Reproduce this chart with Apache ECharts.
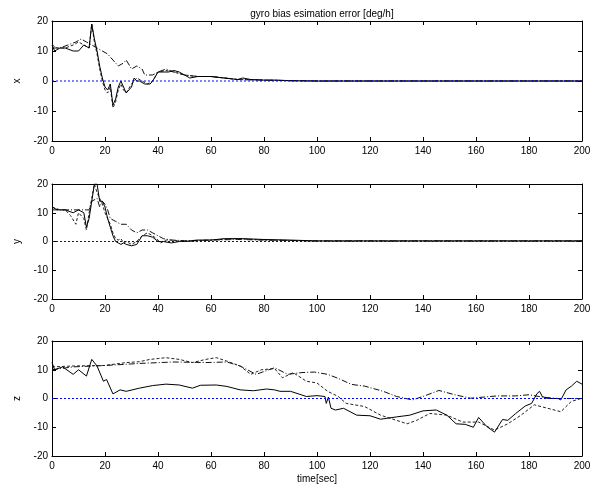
<!DOCTYPE html>
<html lang="en">

<head>
    <meta charset="UTF-8">
    <title>gyro bias</title>
    <script src="https://cdn.jsdelivr.net/npm/echarts@6.0.0/dist/echarts.min.js"></script>
</head>

<body style="margin:0;background:#fff;">
    <div id="main" style="width: 609px;height:490px;"></div>

    <script type="text/javascript">
        // axis ticks
        const xTicks = [0, 20, 40, 60, 80, 100, 120, 140, 160, 180, 200];
        const yTicks = [-20, -10, 0, 10, 20];
        const axisNames = ['x', 'y', 'z'];

        // x axis subplot: [time, value]
        const xSolid = [[0, 12], [1, 10], [3, 11], [5, 11], [8, 10], [10, 10], [12, 12], [14, 11], [15, 19], [16, 14], [17, 10],
            [18, 5], [19, 1], [20, -2], [21, -3], [22, -1], [23, -8], [24, -6], [25, -2], [26, 0], [27, -2], [28, -4], [30, -2],
            [31, 1], [32, 0], [33, 0], [35, -1], [37, -1], [38, 0], [40, 3], [42, 3], [44, 3], [46, 3.5], [48, 3], [50, 2], [52, 1],
            [55, 1.5], [58, 1.5], [60, 1.5], [65, 1], [70, 0.5], [72, 1], [75, 0.5], [80, 0.3], [85, 0.3], [90, 0.1], [100, 0], [200, 0]];
        const xDashed = [[0, 12], [2, 11], [5, 11], [8, 12], [10, 13], [12, 12], [14, 11], [15, 19], [16, 13], [17, 9], [18, 4],
            [19, 0], [20, -3], [21, -4], [22, -2], [23, -9], [24, -7], [25, -3], [26, -1], [27, -3], [28, -4], [30, -1], [32, 1],
            [34, 0], [36, -1], [38, 0], [40, 3], [43, 3.5], [46, 3], [50, 2], [55, 1.5], [60, 1.5], [65, 1], [70, 0.5], [80, 0.3],
            [90, 0.1], [100, 0], [200, 0]];
        const xDashDot = [[0, 11], [3, 11], [6, 12], [9, 13], [11, 14], [13, 13], [15, 12], [17, 11], [19, 10], [21, 9], [23, 7],
            [25, 5], [27, 6], [28, 7], [30, 4], [32, 5], [34, 4], [35, 2], [38, 2], [40, 3], [43, 4], [46, 3], [50, 2], [55, 1.5],
            [60, 1.5], [65, 1], [70, 0.5], [80, 0.3], [90, 0.1], [100, 0], [200, 0]];

        // y axis subplot
        const ySolid = [[0, 12], [2, 11], [5, 11], [8, 10], [10, 11], [12, 10], [13, 5], [14, 8], [15, 14], [16, 20], [17, 20],
            [18, 14], [19, 14], [20, 12], [21, 8], [22, 5], [23, 2], [24, 0], [25, -0.5], [26, -1], [27, -0.5], [28, -1], [30, -1.5],
            [32, -1], [34, 2], [36, 2], [38, 1.5], [40, 0], [42, 0], [45, -0.5], [48, 0], [50, 0], [55, 0.5], [60, 0.5], [65, 1],
            [72, 1], [80, 0.7], [90, 0.5], [100, 0.2], [200, 0.2]];
        const yDashed = [[0, 12], [3, 11], [5, 11], [7, 9], [9, 6], [10, 10], [12, 8], [13, 4], [14, 10], [15, 15], [16, 20],
            [17, 17], [18, 15], [19, 13], [20, 10], [21, 8], [22, 6], [23, 3], [24, 1], [25, 0.5], [26, 1], [27, -0.5], [28, 0],
            [30, -1], [32, 0], [34, 2], [36, 3], [38, 2], [40, 0.5], [41, -0.5], [43, 0.5], [45, 0.5], [50, 0], [60, 0.5], [70, 1],
            [80, 0.5], [100, 0.2], [200, 0.2]];
        const yDashDot = [[0, 11], [3, 11], [6, 11], [9, 11], [11, 11], [13, 11], [14, 11], [15, 14], [17, 15], [18, 12], [19, 14],
            [20, 13], [21, 11], [22, 8], [24, 7], [26, 6], [28, 6], [30, 4], [32, 3], [34, 4], [36, 4], [38, 3], [40, 2], [42, 1],
            [45, 0.5], [50, 0.3], [60, 0.5], [70, 0.7], [80, 0.5], [100, 0.2], [200, 0.2]];

        // z axis subplot
        const zSolid = [[0, 12.5], [1, 10], [4, 11], [8, 8.4], [10, 10], [13, 7.8], [15, 13.6], [17, 11.3], [19.4, 6], [20.6, 6.6],
            [23, 1.6], [25.7, 3], [28, 2.5], [33, 3.6], [38, 4.5], [43, 5], [48, 4.7], [53, 3.6], [56, 4.6], [62, 4.7], [66, 4.2],
            [71, 3], [76, 2.7], [81, 3.3], [84, 3], [86, 2.5], [90, 2.5], [94, 1.3], [96, 0.7], [100, 1], [103, 0.7], [103.5, -1.7],
            [104.3, 0.5], [105.3, -3.4], [107, -4], [110, -3.4], [115, -5.8], [120, -6], [124, -7.2], [130, -6.4], [135, -5.8],
            [140, -4.3], [145, -4], [149, -5.8], [152.5, -8.8], [156, -9], [159, -10], [161, -6.6], [164, -9.7], [167, -11.7],
            [170, -7.3], [172, -7.6], [175, -5.2], [178.6, -2.6], [181, -1.7], [183, 1.7], [184, 2.5], [185, 0.7], [187, 0],
            [191, 0], [192, -0.5], [194, 3], [196, 4.3], [198, 6], [200, 5]];
        const zDashed = [[0, 11], [8, 11.3], [20, 11.5], [28, 12.5], [33, 12.8], [37, 13.6], [43, 14.2], [48, 13.6], [53, 12.5],
            [58, 13.6], [62, 14.2], [66, 13], [71, 11.3], [75, 8.4], [79, 10], [84, 10.4], [87, 7.2], [91, 9], [96, 6], [100, 5.4],
            [104, 2.5], [108, 0.7], [111, -1.7], [118, -2.8], [124, -5.8], [130, -7.6], [134, -8.8], [137.6, -7.6], [142.6, -5.2],
            [149, -5.8], [155, -8.2], [161, -8.2], [167, -11], [172, -8.8], [177, -5.8], [182, -2.2], [187, -3.4], [192, -4.6],
            [196, -1], [200, 0.1]];
        const zDashDot = [[0, 10], [8, 11], [20.6, 11.5], [33, 12.2], [46, 12.7], [58, 12.5], [66, 12.7], [71, 11.3], [77, 8.4],
            [84, 10.7], [89, 8.4], [94, 9], [99, 9.2], [104, 8.4], [108, 7], [113, 4.9], [118, 4.3], [125, 2.5], [130, 0.7],
            [136, -0.5], [140, 0.7], [146, 2.8], [152, 1.3], [158, 0.1], [163, 0.5], [168, 0.9], [175, 0.9], [180, 1.3],
            [185, 0.5], [191, 0], [196, 0], [200, 0]];

        const zeroLine = [[0, 0], [200, 0]];

        const panels = [
            [xSolid, xDashed, xDashDot],
            [ySolid, yDashed, yDashDot],
            [zSolid, zDashed, zDashDot]
        ];

        const font = 'Liberation Sans';
        const tops = [21, 184, 341];
        const heights = [120, 115, 115];

        let grid = [], xAxis = [], yAxis = [], series = [];
        tops.forEach((top, i) => {
            grid.push({ left: 52, width: 530, top: top, height: heights[i] });
            let tickStyle = { show: true, inside: true, length: 4, lineStyle: { color: '#000' } };
            let lineStyle = { show: true, onZero: false, lineStyle: { color: '#000', width: 1 } };
            // bottom + top x axes
            xAxis.push({
                type: 'value', gridIndex: i, min: 0, max: 200, interval: 20, position: 'bottom',
                axisLine: lineStyle, axisTick: tickStyle, splitLine: { show: false },
                axisLabel: { color: '#000', fontFamily: font, fontSize: 10, margin: 5 },
                name: i === 2 ? 'time[sec]' : '', nameLocation: 'middle', nameGap: 18,
                nameTextStyle: { color: '#000', fontFamily: font, fontSize: 10 }
            });
            xAxis.push({
                type: 'value', gridIndex: i, min: 0, max: 200, interval: 20, position: 'top',
                axisLine: lineStyle, axisTick: tickStyle, splitLine: { show: false }, axisLabel: { show: false }
            });
            yAxis.push({
                type: 'value', gridIndex: i, min: -20, max: 20, interval: 10, position: 'left',
                axisLine: lineStyle, axisTick: tickStyle, splitLine: { show: false },
                axisLabel: { color: '#000', fontFamily: font, fontSize: 10, margin: 4 },
                name: axisNames[i], nameLocation: 'middle', nameGap: 27, nameRotate: 90,
                nameTextStyle: { color: '#000', fontFamily: font, fontSize: 10 }
            });
            yAxis.push({
                type: 'value', gridIndex: i, min: -20, max: 20, interval: 10, position: 'right',
                axisLine: lineStyle, axisTick: tickStyle, splitLine: { show: false }, axisLabel: { show: false }
            });

            let [solid, dashed, dashDot] = panels[i];
            let base = { type: 'line', xAxisIndex: 2 * i, yAxisIndex: 2 * i, symbol: 'none', silent: true, animation: false };
            series.push(Object.assign({}, base, { data: dashDot, lineStyle: { color: '#111', width: 1, type: [6, 2, 1, 2] } }));
            series.push(Object.assign({}, base, { data: dashed, lineStyle: { color: '#222', width: 1, type: [3, 2] } }));
            series.push(Object.assign({}, base, { data: solid, lineStyle: { color: '#000', width: 1 } }));
            series.push(Object.assign({}, base, { data: zeroLine, z: 5, lineStyle: { color: '#0000ff', width: 1, type: [2, 2] } }));
        });

        let myChart = echarts.init(document.getElementById('main'));

        let options = {
            backgroundColor: '#fff',
            animation: false,
            title: {
                text: 'gyro bias esimation error [deg/h]', left: 317, top: 4, textAlign: 'center',
                textStyle: { color: '#000', fontFamily: font, fontSize: 10, fontWeight: 'normal' }
            },
            grid: grid,
            xAxis: xAxis,
            yAxis: yAxis,
            series: series
        };

        myChart.setOption(options);
    </script>
</body>

</html>
